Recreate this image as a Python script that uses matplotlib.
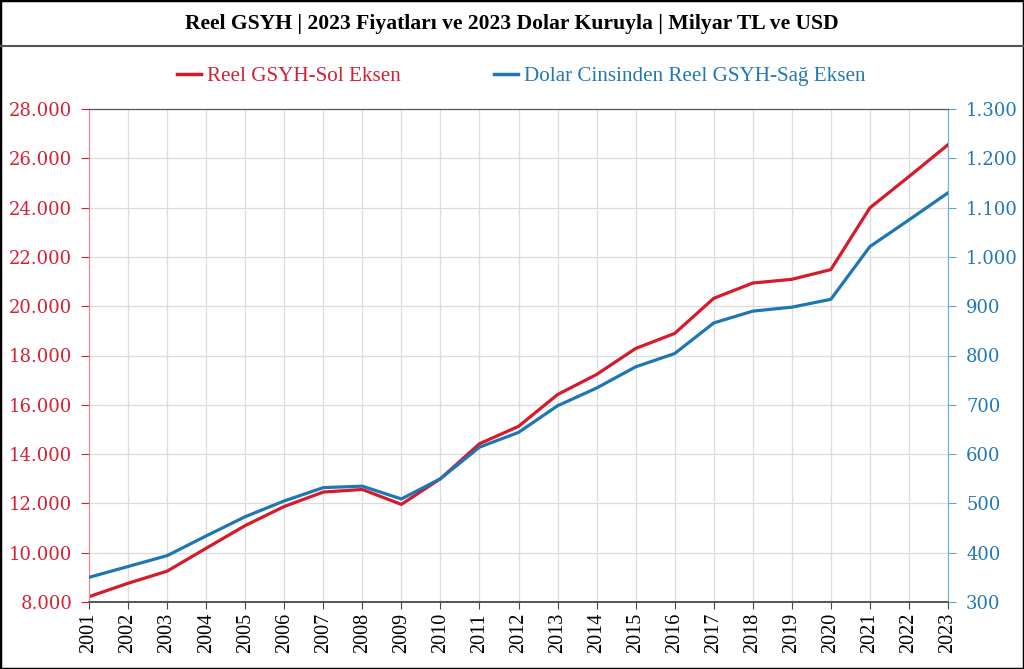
"""
Reel GSYH: TL (sol eksen) ve USD (sag eksen), 2001-2023.
"""
import matplotlib
matplotlib.use("Agg")
import matplotlib.pyplot as plt
import matplotlib.lines as mlines
from matplotlib.patches import Rectangle
from matplotlib.ticker import FuncFormatter, MultipleLocator

# -- data ----------------------------------------------------------------------
years = list(range(2001, 2024))
gsyh_tl = [8215, 8760, 9250, 10180, 11100, 11875, 12460, 12565, 11960, 13000,
           14420, 15125, 16415, 17230, 18285, 18895, 20320, 20940, 21090, 21485,
           23990, 25260, 26550]
gsyh_usd = [350, 372, 394, 434, 473, 505, 532, 535, 509, 550,
            614, 644, 698, 734, 777, 804, 866, 890, 898, 914,
            1021, 1075, 1130]

TITLE = "Reel GSYH | 2023 Fiyatları ve 2023 Dolar Kuruyla | Milyar TL ve USD"
LBL_TL = "Reel GSYH-Sol Eksen"
LBL_USD = "Dolar Cinsinden Reel GSYH-Sağ Eksen"

RED = "#d71a2a"
BLUE = "#1f76b4"
RED_TXT = "#d42034"
BLUE_TXT = "#2178b5"
SERIF = "Liberation Serif"

W, H = 1024, 669
fig = plt.figure(figsize=(W / 100, H / 100), dpi=100)
fig.patch.set_facecolor("white")

ax = fig.add_axes([89 / W, 1 - 602 / H, (948 - 89) / W, (602 - 109) / H])
ax2 = ax.twinx()

ax.plot(years, gsyh_tl, color=RED, lw=2.3, zorder=3)
ax2.plot(years, gsyh_usd, color=BLUE, lw=2.3, zorder=3)

ax.set_xlim(2001, 2023)
ax.set_ylim(8000, 28000)
ax2.set_ylim(300, 1300)
ax.yaxis.set_major_locator(MultipleLocator(2000))
ax2.yaxis.set_major_locator(MultipleLocator(100))
ax.set_xticks(years)

dot_fmt = FuncFormatter(lambda v, p: f"{int(round(v)):,}".replace(",", "."))
ax.yaxis.set_major_formatter(dot_fmt)
ax2.yaxis.set_major_formatter(dot_fmt)

ax.grid(True, color="#dcdcdc", lw=0.9, zorder=0)
ax.set_axisbelow(True)

ax.tick_params(axis="x", labelrotation=90, labelsize=14.5, length=5,
               color="#444444", labelcolor="black", pad=3)
ax.tick_params(axis="y", labelsize=13, length=6, color=RED,
               labelcolor=RED_TXT, pad=6, direction="out")
ax2.tick_params(axis="y", labelsize=13, length=6, color="#5aa7d0",
                labelcolor=BLUE_TXT, pad=7, direction="out")
for lab in ax.get_xticklabels():
    lab.set_family(SERIF)
for lab in ax.get_yticklabels() + ax2.get_yticklabels():
    lab.set_family("DejaVu Serif")

for a in (ax, ax2):
    a.spines["left"].set_color("#e38a96")
    a.spines["right"].set_color("#6fb3d8")
    a.spines["top"].set_color("#555555")
    a.spines["bottom"].set_color("#555555")
    a.spines["bottom"].set_linewidth(1.2)

# -- title band and frame ------------------------------------------------------
fig.text(0.5, 1 - 24 / H, TITLE, ha="center", va="center",
         fontsize=15.6, family=SERIF, weight="bold", color="black")
fig.add_artist(mlines.Line2D([0, 1], [1 - 46 / H] * 2,
                             transform=fig.transFigure, color="#555555", lw=1.5))
fig.add_artist(Rectangle((0, 0), 1, 1, transform=fig.transFigure,
                         fill=False, edgecolor="black", lw=2.5))

# -- legend --------------------------------------------------------------------
handles = [mlines.Line2D([], [], color=RED, lw=2.5, label=LBL_TL),
           mlines.Line2D([], [], color=BLUE, lw=2.5, label=LBL_USD)]
leg = fig.legend(handles=handles, loc="center", bbox_to_anchor=(0.509, 1 - 76 / H),
                 ncol=2, frameon=False, handlelength=1.15, handletextpad=0.3,
                 columnspacing=4.4, prop={"family": SERIF, "size": 15.2})
leg.get_texts()[0].set_color(RED_TXT)
leg.get_texts()[1].set_color(BLUE_TXT)

fig.savefig("out.png", dpi=100, facecolor=fig.get_facecolor())
plt.close(fig)
